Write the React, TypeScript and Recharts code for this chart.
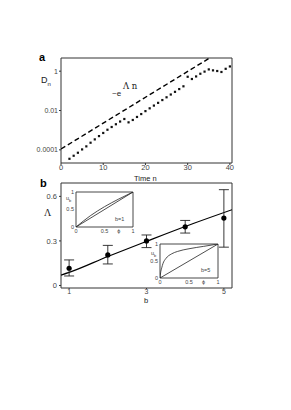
import React from "react";
import {
  ComposedChart,
  LineChart,
  Line,
  Scatter,
  XAxis,
  YAxis,
  ErrorBar,
  ReferenceArea,
} from "recharts";

// ---------- Panel a ----------
const timeSteps = [2, 3, 4, 5, 6, 7, 8, 9, 10, 11, 12, 13, 14, 15, 16, 17, 18, 19, 20, 21, 22, 23, 24, 25, 26, 27, 28, 29, 30, 31, 32, 33, 34, 35, 36, 37, 38, 39, 40];
const distances = [
  3.5e-5, 5.0e-5, 7.1e-5, 1.05e-4, 1.5e-4, 2.3e-4, 3.4e-4, 5.0e-4, 7.2e-4, 1.05e-3,
  1.45e-3, 2.0e-3, 2.75e-3, 3.7e-3, 2.5e-3, 3.3e-3, 4.7e-3, 6.6e-3, 9.3e-3, 0.0129,
  0.0178, 0.0245, 0.034, 0.047, 0.065, 0.089, 0.123, 0.17, 0.52, 0.4,
  0.54, 0.74, 0.95, 1.23, 1.1, 1.02, 0.91, 1.32, 1.74,
];
const expLineN = [0, 35.2];
const expLineD = [1.1e-4, 4.68];
const aXTicks = [0, 10, 20, 30, 40];
const aYTicks = [0.0001, 0.01, 1];
const aYTickLabels = ["0.0001", "0.01", "1"];

// ---------- Panel b ----------
const bValues = [1, 2, 3, 4, 5];
const lambdaVals = [0.116, 0.206, 0.3, 0.395, 0.454];
const lambdaLow = [0.064, 0.145, 0.255, 0.353, 0.258];
const lambdaHigh = [0.172, 0.27, 0.34, 0.438, 0.645];
const fitB = [0.79, 1, 2, 3, 4, 5.21];
const fitLambda = [0.07, 0.088, 0.195, 0.297, 0.397, 0.51];
const bXTicks = [1, 3, 5];
const bYTicks = [0, 0.3, 0.6];

// ---------- Insets ----------
const phi1 = [0, 0.25, 0.5, 0.75, 1];
const ub1 = [0, 0.32, 0.58, 0.8, 1];
const phi5 = [0, 0.01, 0.03, 0.05, 0.1, 0.2, 0.3, 0.5, 0.75, 1];
const ub5 = [0, 0.15, 0.3, 0.42, 0.57, 0.71, 0.78, 0.86, 0.93, 1];
const diagPhi = [0, 1];
const diagU = [0, 1];
const insetXTicks = [0, 0.5, 0.75, 1];
const insetXTickLabels = ["0", "0.5", "ϕ", "1"];
const insetYTicks = [0, 0.5, 1];

const FONT = "'Liberation Sans', Arial, sans-serif";
const AX = "#333";
const TXT = "#444";

const dotsTable = timeSteps.map((n, i) => ({ n, d: distances[i] }));
const expTable = expLineN.map((n, i) => ({ n, e: expLineD[i] }));
const pointsTable = bValues.map((b, i) => ({
  b,
  lam: lambdaVals[i],
  err: [lambdaVals[i] - lambdaLow[i], lambdaHigh[i] - lambdaVals[i]],
}));
const fitTable = fitB.map((b, i) => ({ b, fit: fitLambda[i] }));
const inset1Curve = phi1.map((p, i) => ({ p, u: ub1[i] }));
const inset5Curve = phi5.map((p, i) => ({ p, u: ub5[i] }));
const diagTable = diagPhi.map((p, i) => ({ p, u: diagU[i] }));

const SquareDot = (props: any) => {
  const { cx, cy } = props;
  if (cx == null || cy == null) return null;
  return <rect x={cx - 1.1} y={cy - 1.1} width={2.2} height={2.2} fill="#111" />;
};

const RoundDot = (props: any) => {
  const { cx, cy } = props;
  if (cx == null || cy == null) return null;
  return <circle cx={cx} cy={cy} r={2.6} fill="#000" />;
};

const abs = (left: number, top: number, extra: React.CSSProperties = {}): React.CSSProperties => ({
  position: "absolute",
  left,
  top,
  fontFamily: FONT,
  color: TXT,
  lineHeight: 1,
  whiteSpace: "nowrap",
  ...extra,
});

function InsetChart({
  left,
  top,
  width,
  height,
  margin,
  curve,
}: {
  left: number;
  top: number;
  width: number;
  height: number;
  margin: any;
  curve: any[];
}) {
  return (
    <div style={{ position: "absolute", left, top }}>
      <LineChart width={width} height={height} margin={margin}>
        <ReferenceArea x1={0} x2={1} y1={0} y2={1} fill="#fff" fillOpacity={1} stroke={AX} strokeWidth={0.9} ifOverflow="visible" />
        <XAxis
          dataKey="p"
          type="number"
          domain={[0, 1]}
          ticks={insetXTicks}
          tickFormatter={(v: number) => insetXTickLabels[insetXTicks.indexOf(v)]}
          height={8}
          axisLine={false}
          tickLine={false}
          tickSize={0}
          tickMargin={2}
          interval={0}
          tick={{ fontSize: 5.5, fill: TXT, fontFamily: FONT }}
          allowDataOverflow
        />
        <YAxis
          type="number"
          domain={[0, 1]}
          ticks={insetYTicks}
          width={12}
          axisLine={false}
          tickLine={false}
          tickSize={0}
          tickMargin={2}
          interval={0}
          tick={{ fontSize: 5.5, fill: TXT, fontFamily: FONT }}
          allowDataOverflow
        />
        <Line data={diagTable} dataKey="u" type="linear" stroke="#222" strokeWidth={0.8} dot={false} isAnimationActive={false} />
        <Line data={curve} dataKey="u" type="monotone" stroke="#222" strokeWidth={0.8} dot={false} isAnimationActive={false} />
      </LineChart>
    </div>
  );
}

export default function App() {
  return (
    <div style={{ position: "absolute", left: 0, top: 0, width: 291, height: 410, background: "#fff", overflow: "hidden" }}>
      {/* Panel a */}
      <div style={{ position: "absolute", left: 0, top: 0 }}>
        <ComposedChart width={291} height={200} margin={{ top: 58, right: 59, bottom: 22, left: 21 }}>
          <ReferenceArea x1={0} x2={40.5} y1={2.14e-5} y2={4.68} fill="none" stroke={AX} strokeWidth={1} ifOverflow="visible" />
          <XAxis
            dataKey="n"
            type="number"
            domain={[0, 40.5]}
            ticks={aXTicks}
            height={15}
            axisLine={false}
            tickLine={{ stroke: AX }}
            tickSize={2}
            tickMargin={0}
            interval={0}
            tick={{ fontSize: 7.5, fill: TXT, fontFamily: FONT }}
            allowDataOverflow
          />
          <YAxis
            type="number"
            scale="log"
            domain={[2.14e-5, 4.68]}
            ticks={aYTicks}
            tickFormatter={(v: number) => aYTickLabels[aYTicks.indexOf(v)]}
            width={40}
            axisLine={false}
            tickLine={{ stroke: AX }}
            tickSize={2}
            tickMargin={1}
            interval={0}
            tick={{ fontSize: 7, fill: TXT, fontFamily: FONT }}
            allowDataOverflow
          />
          <Line data={expTable} dataKey="e" type="linear" stroke="#000" strokeWidth={1.4} strokeDasharray="5 3" dot={false} isAnimationActive={false} />
          <Scatter data={dotsTable} dataKey="d" shape={SquareDot} isAnimationActive={false} />
        </ComposedChart>
      </div>

      {/* Panel b */}
      <div style={{ position: "absolute", left: 0, top: 170 }}>
        <ComposedChart width={291} height={140} margin={{ top: 13, right: 59, bottom: 7, left: 31 }}>
          <ReferenceArea x1={0.79} x2={5.21} y1={-0.017} y2={0.69} fill="none" stroke={AX} strokeWidth={1} ifOverflow="visible" />
          <XAxis
            dataKey="b"
            type="number"
            domain={[0.79, 5.21]}
            ticks={bXTicks}
            height={15}
            axisLine={false}
            tickLine={{ stroke: AX }}
            tickSize={1}
            tickMargin={0}
            interval={0}
            tick={{ fontSize: 7, fill: TXT, fontFamily: FONT }}
            allowDataOverflow
          />
          <YAxis
            type="number"
            domain={[-0.017, 0.69]}
            ticks={bYTicks}
            width={30}
            axisLine={false}
            tickLine={{ stroke: AX }}
            tickSize={2}
            tickMargin={2}
            interval={0}
            tick={{ fontSize: 7.5, fill: TXT, fontFamily: FONT }}
            allowDataOverflow
          />
          <Line data={fitTable} dataKey="fit" type="monotone" stroke="#000" strokeWidth={1.2} dot={false} isAnimationActive={false} />
          <Scatter data={pointsTable} dataKey="lam" shape={RoundDot} isAnimationActive={false}>
            <ErrorBar dataKey="err" direction="y" width={5} stroke="#222" strokeWidth={0.9} />
          </Scatter>
        </ComposedChart>
      </div>

      <InsetChart left={50} top={186} width={90} height={50} margin={{ top: 6, right: 7, bottom: 1, left: 14 }} curve={inset1Curve} />
      <InsetChart left={140} top={238} width={85} height={48} margin={{ top: 6, right: 7, bottom: 0, left: 8 }} curve={inset5Curve} />

      {/* Texts */}
      <div style={abs(39, 52, { fontWeight: "bold", fontSize: 11, color: "#000" })}>a</div>
      <div style={abs(41, 76, { fontSize: 9, color: "#222" })}>
        D<span style={{ fontSize: 6, position: "relative", top: 3 }}>n</span>
      </div>
      <div style={abs(112, 90, { fontSize: 8, color: "#222" })}>~e</div>
      <div style={abs(123, 82, { fontSize: 8.5, color: "#222", fontFamily: "'DejaVu Serif', serif" })}>Λ n</div>
      <div style={abs(134, 175, { fontSize: 7.5, color: "#222" })}>Time n</div>

      <div style={abs(40, 178, { fontWeight: "bold", fontSize: 11, color: "#000" })}>b</div>
      <div style={abs(44, 208, { fontSize: 10, color: "#222", fontFamily: "'Liberation Serif', serif" })}>Λ</div>
      <div style={abs(144, 297, { fontSize: 7.5, color: "#222" })}>b</div>

      <div style={abs(66, 196, { fontSize: 5.5 })}>
        u<span style={{ fontSize: 4, position: "relative", top: 1.5 }}>b</span>
      </div>
      <div style={abs(115, 217, { fontSize: 5.5 })}>b=1</div>
      <div style={abs(151, 251, { fontSize: 5.5 })}>
        u<span style={{ fontSize: 4, position: "relative", top: 1.5 }}>b</span>
      </div>
      <div style={abs(201, 268, { fontSize: 5.5 })}>b=5</div>
    </div>
  );
}
